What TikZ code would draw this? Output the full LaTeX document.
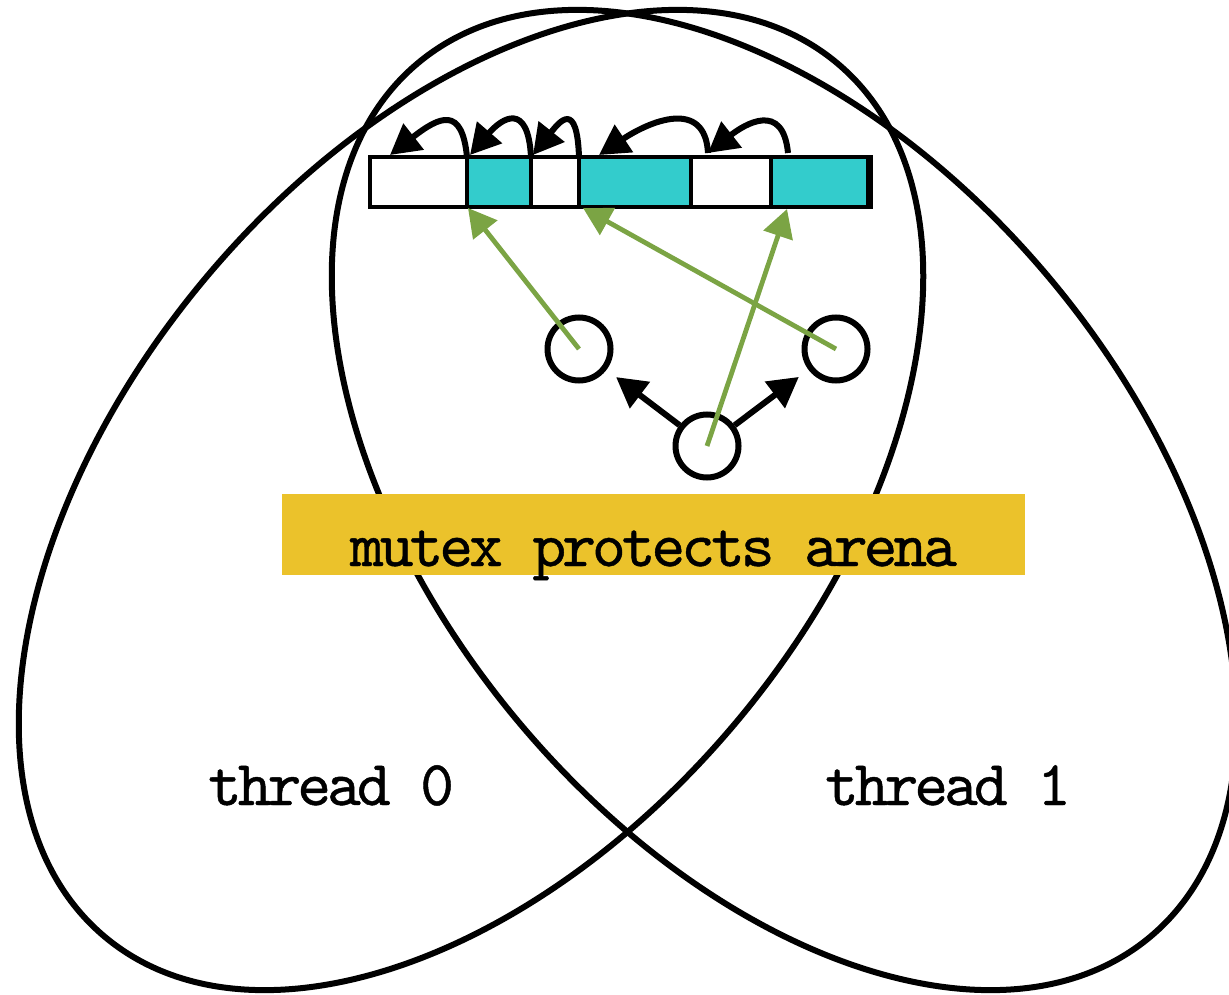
\documentclass[tikz,border=0pt]{standalone}
\usepackage{fontspec}
\usetikzlibrary{arrows.meta,calc}
\newfontfamily\codefont{lmmono10-regular.otf}[LetterSpace=-6,FakeBold=0.7]
\definecolor{cellcyan}{RGB}{51,204,204}
\definecolor{tagyellow}{RGB}{235,194,43}
\definecolor{refgreen}{RGB}{123,164,68}

\begin{document}
\begin{tikzpicture}[x=0.5pt,y=-0.5pt,
  outline/.style={line width=3pt},
  cell/.style={draw, line width=2.4pt, anchor=north west, inner sep=0pt,
    outer sep=0pt, minimum height=25pt},
  free/.style={cell, fill=white},
  used/.style={cell, fill=cellcyan},
  obj/.style={circle, draw, line width=3pt, minimum size=31.5pt, inner sep=0pt},
  link/.style={line width=3pt, -{Triangle[length=15pt,width=16pt]}},
  ref/.style={color=refgreen, line width=2.4pt, -{Triangle[length=14pt,width=15pt]}},
  lbl/.style={font=\codefont\fontsize{32}{36}\selectfont}
]
\useasboundingbox (0,0) rectangle (1229,994);

% the two thread regions
\draw[outline, rotate around={50:(471,500)}] (471,500) ellipse [x radius=570, y radius=346];
\draw[outline, rotate around={-50:(784,500)}] (784,500) ellipse [x radius=570, y radius=346];

% arena cells
\node[free, minimum width=48.5pt] (c1) at (370,157) {};
\node[used, minimum width=32pt]   (c2) at (467,157) {};
\node[free, minimum width=24pt]   (c3) at (531,157) {};
\node[used, minimum width=56pt]   (c4) at (579,157) {};
\node[free, minimum width=40pt]   (c5) at (691,157) {};
\node[used, minimum width=48.5pt] (c6) at (771,157) {};
\node[cell, minimum width=250.5pt] (bar) at (370,157) {};

% free-list links
\draw[link] (c2.north west) .. controls (462,106) and (440,116) .. ($(c1.north west)+(20,-2)$);
\draw[link] (c3.north west) .. controls (528,101) and (502,118) .. ($(c2.north west)+(3,-2)$);
\draw[link] (c4.north west) .. controls (577,100) and (560,121) .. ($(c3.north west)+(2,-2)$);
\draw[link] ($(c5.north west)+(17,-4)$) .. controls (705,98) and (650,121) .. ($(c4.north west)+(20,-2)$);
\draw[link] ($(c6.north west)+(17,-4)$) .. controls (783,101) and (745,124) .. ($(c5.north west)+(17,-4)$);

% objects
\node[obj] (l) at (579,349) {};
\node[obj] (r) at (836,349) {};
\node[obj] (b) at (707,446) {};
\draw[link, shorten >=6pt] (b) -- (l);
\draw[link, shorten >=6pt] (b) -- (r);

% references into the arena
\draw[ref] (l.center) -- ($(c2.south west)+(1,1)$);
\draw[ref] (r.center) -- ($(c4.south west)+(4,1)$);
\draw[ref] (b.center) -- ($(c6.south west)+(16,2)$);

% labels
\node[lbl, fill=tagyellow, minimum width=371.5pt, minimum height=40.5pt, inner sep=0pt,
  text height=36pt, text depth=4.5pt] (tag) at (653.5,534.5) {mutex protects arena};
\node[lbl, anchor=base] (t0) at (331,805) {thread 0};
\node[lbl, anchor=base] (t1) at (948,805) {thread 1};
\end{tikzpicture}
\end{document}
